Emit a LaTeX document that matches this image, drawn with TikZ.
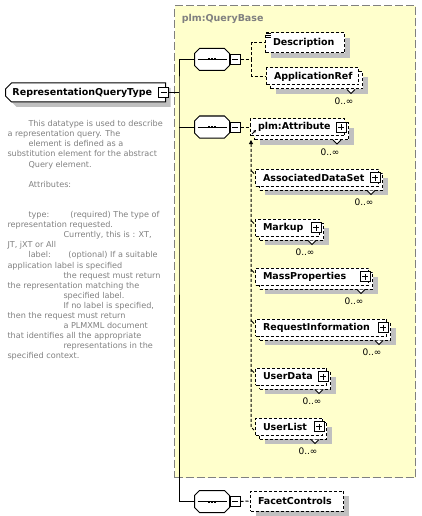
\documentclass[tikz,border=0pt]{standalone}
\usepackage{fontspec}
\setmainfont{DejaVu Sans}
\usepackage{tikz}
\usetikzlibrary{positioning, arrows.meta, shapes.misc, shadows}

\definecolor{qbyellow}{HTML}{FFFFCC}
\definecolor{qbgray}{HTML}{808080}
\definecolor{shadegray}{HTML}{C0C0C0}

\newcommand{\lblfont}{\fontsize{9.5}{11}\selectfont\bfseries}
\newcommand{\docfont}{\fontsize{8.1}{10.1}\selectfont}

\tikzset{
  boxshadow/.style={drop shadow={shadow xshift=5pt, shadow yshift=-5pt, fill=shadegray, opacity=1}},
  groupbox/.style={
    draw=qbgray, fill=qbyellow, line width=1.2pt,
    dash pattern=on 8pt off 3pt, anchor=north west, inner sep=0pt
  },
  grouplabel/.style={font=\lblfont, text=qbgray, anchor=west},
  rootbox/.style={
    chamfered rectangle, chamfered rectangle corners={north west,south west},
    chamfered rectangle sep=3pt, draw, fill=white, boxshadow,
    anchor=west, minimum height=19pt, inner xsep=4pt, inner ysep=0pt,
    align=left, font=\lblfont
  },
  seqbox/.style={minimum width=34pt, minimum height=21pt, inner sep=0pt},
  elembox/.style={
    draw, dash pattern=on 3pt off 2pt, fill=white, anchor=west,
    minimum height=20pt, inner xsep=7.5pt, inner ysep=0pt,
    align=left, font=\lblfont
  },
  backbox/.style={
    draw, dash pattern=on 3pt off 2pt, fill=white, anchor=west,
    minimum height=17pt, boxshadow
  },
  togglebox/.style={draw, solid, fill=white, minimum size=10pt, inner sep=0pt},
  minusbox/.style={togglebox, path picture={
    \draw ([xshift=-3pt]path picture bounding box.center) -- ([xshift=3pt]path picture bounding box.center);}},
  plusbox/.style={togglebox, path picture={
    \draw ([xshift=-3pt]path picture bounding box.center) -- ([xshift=3pt]path picture bounding box.center);
    \draw ([yshift=-3pt]path picture bounding box.center) -- ([yshift=3pt]path picture bounding box.center);}},
  optlink/.style={dash pattern=on 3pt off 2pt},
  mult/.style={font=\fontsize{9}{10}\selectfont, inner sep=0pt},
  doctext/.style={font=\docfont, text=qbgray, align=left, inner sep=0pt, anchor=north west},
}

% octagon outline round a sequence node
\newcommand{\octpath}[1]{%
  ([xshift=5pt]#1.north west) -- ([xshift=-5pt]#1.north east) -- ([yshift=-5pt]#1.north east)
  -- ([yshift=5pt]#1.south east) -- ([xshift=-5pt]#1.south east) -- ([xshift=5pt]#1.south west)
  -- ([yshift=5pt]#1.south west) -- ([yshift=-5pt]#1.north west) -- cycle}

% sequence symbol: shadow, octagon, line with three dots
\newcommand{\seqshape}[1]{%
  \fill[shadegray, shift={(5,5)}] \octpath{#1};
  \filldraw[fill=white] \octpath{#1};
  \draw ([xshift=3pt]#1.west) -- ([xshift=-3pt]#1.east);
  \foreach \dx in {-3,0,3}
    \fill ([shift={(\dx-1,-1)}]#1.center) rectangle ++(2,2);
}

% element that may occur many times: name, x, y, width, text width, label
\newcommand{\stackelem}[6]{%
  \node[backbox, minimum width=#4pt] (#1-b) at (#2+4,#3+4) {};
  \node[elembox, minimum height=17pt, minimum width=#4pt, text width=#5pt] (#1) at (#2,#3) {#6};
  \filldraw[fill=white] ([xshift=-16pt]#1-b.south east) -- ++(4,4) -- ++(4,-4);
  \node[mult] (#1-n) at ([shift={(-19,12)}]#1-b.south east) {0..∞};
}

\begin{document}
\begin{tikzpicture}[x=1pt, y=-1pt, line width=1pt]
  \useasboundingbox (0,0) rectangle (421,516);

  \node[groupbox, minimum width=241pt, minimum height=472pt] (qbase) at (174,5) {};
  \node[grouplabel] (qbname) at (178,19) {plm:QueryBase};

  \node[rootbox, text width=146pt] (root) at (5,92.5) {RepresentationQueryType};
  \node[minusbox] (rootm) at ([xshift=-2.5pt]root.east) {};

  \node[doctext] (doc) at (7,120) {%
    \hspace*{21pt}This datatype is used to describe\\
    a representation query. The\\
    \hspace*{21pt}element is defined as a\\
    substitution element for the abstract\\
    \hspace*{21pt}Query element.\\
    \mbox{}\\
    \hspace*{21pt}Attributes:\\
    \mbox{}\\
    \mbox{}\\
    \hspace*{21pt}\makebox[42pt][l]{type:}(required) The type of\\
    representation requested.\\
    \hspace*{56pt}Currently, this is : XT,\\
    JT, jXT or All\\
    \hspace*{21pt}\makebox[40pt][l]{label:}(optional) If a suitable\\
    application label is specified\\
    \hspace*{56pt}the request must return\\
    the representation matching the\\
    \hspace*{56pt}specified label.\\
    \hspace*{56pt}If no label is specified,\\
    then the request must return\\
    \hspace*{56pt}a PLMXML document\\
    that identifies all the appropriate\\
    \hspace*{56pt}representations in the\\
    specified context.};

  % sequences
  \node[seqbox] (s1) at (212,59.5) {};
  \node[seqbox] (s2) at (212,127) {};
  \node[seqbox] (s3) at (212,501.5) {};
  \foreach \s in {s1,s2,s3} {
    \seqshape{\s}
    \node[minusbox, right=0pt of \s] (\s-m) {};
  }

  % elements
  \node[elembox, boxshadow, minimum width=79pt, text width=64pt] (desc) at (265,43) {Description};
  \stackelem{appref}{266}{76.5}{92}{77}{ApplicationRef}
  \stackelem{attr}{250}{127}{94}{79}{plm:Attribute}
  \stackelem{ads}{255}{177.5}{123}{108}{AssociatedDataSet}
  \stackelem{mkp}{255}{227.5}{64}{49}{Markup}
  \stackelem{mass}{255}{276.5}{113}{98}{MassProperties}
  \stackelem{req}{255}{327.5}{131}{116}{RequestInformation}
  \stackelem{udata}{255}{376.5}{71}{56}{UserData}
  \stackelem{ulist}{255}{426.5}{67}{52}{UserList}
  \node[elembox, boxshadow, minimum width=93pt, text width=78pt] (facet) at (250,501) {FacetControls};

  \foreach \n in {attr,ads,mkp,mass,req,udata,ulist}
    \node[plusbox] (\n-p) at ([xshift=-4pt]\n.east) {};

  % small icons
  \foreach \dy in {0.5,2.5,4.5}
    \draw[line width=0.8pt] ([shift={(1,\dy)}]desc.north west) -- ++(5,0);
  \draw[line width=0.8pt, -{Triangle[length=2.5pt,width=2.5pt]}] ([shift={(2,-2)}]attr.south west) -- ++(4,-4);

  % connectors
  \coordinate (trunk) at (179,92.5);
  \draw (rootm.east) -- (trunk);
  \draw (s1.west) -| (trunk) |- (s3.west);
  \draw (s2.west) -- (s2.west -| trunk);

  \coordinate (j1) at ([xshift=11pt]s1-m.east);
  \draw[optlink] (s1-m.east) -- (j1) |- (desc.west);
  \draw[optlink] (j1) |- (appref.west);
  \draw[optlink] (s2-m.east) -- (attr.west);
  \draw[optlink] (s3-m.east) -- (facet.west);

  \coordinate (subtop) at (251,140);
  \coordinate (subend) at (251,427);
  \draw[optlink, {Triangle[length=4pt,width=4pt]}-] (subtop) -- (subend) -- ++(3,3);
  \foreach \n in {ads,mkp,mass,req,udata}
    \draw ([shift={(-4,2)}]\n.north west) -- ++(3,3);
\end{tikzpicture}
\end{document}
